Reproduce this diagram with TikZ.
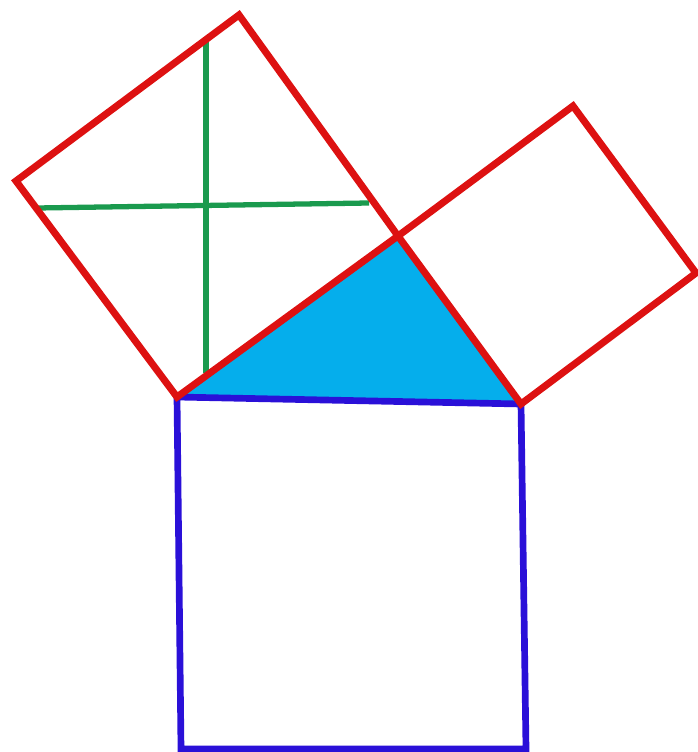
\documentclass[tikz,border=0pt]{standalone}
\definecolor{legred}{HTML}{DD1111}
\definecolor{hypblue}{HTML}{2A10D8}
\definecolor{trifill}{HTML}{05AEEC}
\definecolor{cutgreen}{HTML}{1A9A4E}
\begin{document}
\begin{tikzpicture}[
  x=0.01cm, y=-0.01cm,
  legsq/.style={draw=legred, line width=2pt, line join=miter},
  hypsq/.style={draw=hypblue, line width=1.9pt, line join=miter},
  cut/.style={draw=cutgreen, line width=1.5pt},
  tri/.style={fill=trifill}
]
\useasboundingbox (0,0) rectangle (698,752);

% triangle corners
\coordinate (A) at (177,397);
\coordinate (B) at (521,404);
\coordinate (C) at (398,236);

% square on the long leg
\coordinate (P1) at (239,15);
\coordinate (P2) at (16,181);
% square on the short leg
\coordinate (Q1) at (573,106);
\coordinate (Q2) at (696,273);
% square on the hypotenuse
\coordinate (H1) at (181,749);
\coordinate (H2) at (526,749);
% cutting lines
\coordinate (V1) at (206,41);
\coordinate (V2) at (206,373);
\coordinate (W1) at (37,208);
\coordinate (W2) at (369,203);

\fill[tri] (A) -- (B) -- (C) -- cycle;

\draw[hypsq] (A) -- (B) -- (H2) -- (H1) -- cycle;

\draw[cut] (V1) -- (V2);
\draw[cut] (W1) -- (W2);

\draw[legsq] (A) -- (C) -- (P1) -- (P2) -- cycle;
\draw[legsq] (C) -- (B) -- (Q2) -- (Q1) -- cycle;
\end{tikzpicture}
\end{document}
